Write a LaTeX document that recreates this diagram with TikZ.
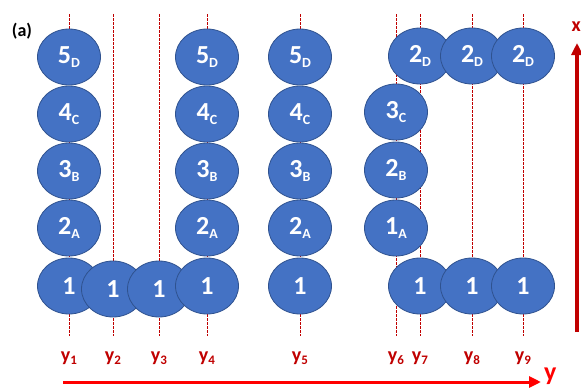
\documentclass[tikz,border=0pt]{standalone}
\usepackage{fontspec}
\setmainfont{Carlito}
\usepackage{xcolor}
\definecolor{ballblue}{RGB}{68,114,196}
\definecolor{balledge}{RGB}{47,82,143}
\definecolor{guidered}{RGB}{192,0,0}
\definecolor{axisred}{RGB}{255,0,0}
\usetikzlibrary{arrows.meta, positioning, shapes.geometric}
\newcommand{\lowsub}[2][14]{\raisebox{-0.35ex}{\fontsize{#1}{#1}\selectfont #2}}

\begin{document}
\begin{tikzpicture}[
  x=1pt, y=-1pt,
  ball/.style={ellipse, draw=balledge, fill=ballblue, line width=0.8pt,
               minimum width=63pt, minimum height=56pt, inner sep=0pt,
               text=white, font=\fontsize{26}{26}\selectfont\bfseries},
  guide/.style={draw=guidered, line width=0.6pt, dash pattern=on 2.5pt off 1.5pt},
  ylab/.style={text=guidered, font=\fontsize{20}{20}\selectfont\bfseries, anchor=base},
  arr/.style={-{Triangle[length=12pt, width=11pt]}}
]
\useasboundingbox (0,0) rectangle (581,391);

% Guide lines and their labels
\foreach \i/\xx in {1/69, 2/113, 3/159, 4/207, 5/300, 6/396, 7/420, 8/472, 9/523} {
  \coordinate (t\i) at (\xx,14);
  \coordinate (b\i) at (\xx,336);
  \draw[guide] (t\i) -- (b\i);
  \node[ylab] (l\i) at (\xx,361) {y\lowsub[13]{\i}};
}

% Column y1
\node[ball] (c1-5) at (69,57)  {5\lowsub{D}};
\node[ball] (c1-4) at (69,114) {4\lowsub{C}};
\node[ball] (c1-3) at (69,171) {3\lowsub{B}};
\node[ball] (c1-2) at (69,228) {2\lowsub{A}};
\node[ball] (c1-1) at (69,286) {1};

% Columns y2, y3
\node[ball] (c2-1) at (113,289) {1};
\node[ball] (c3-1) at (159,289) {1};

% Column y4
\node[ball] (c4-5) at (207,57)  {5\lowsub{D}};
\node[ball] (c4-4) at (207,114) {4\lowsub{C}};
\node[ball] (c4-3) at (207,171) {3\lowsub{B}};
\node[ball] (c4-2) at (207,228) {2\lowsub{A}};
\node[ball] (c4-1) at (207,286) {1};

% Column y5
\node[ball] (c5-5) at (300,57)  {5\lowsub{D}};
\node[ball] (c5-4) at (300,114) {4\lowsub{C}};
\node[ball] (c5-3) at (300,171) {3\lowsub{B}};
\node[ball] (c5-2) at (300,228) {2\lowsub{A}};
\node[ball] (c5-1) at (300,286) {1};

% Column y6
\node[ball] (c6-3) at (396,112) {3\lowsub{C}};
\node[ball] (c6-2) at (396,170) {2\lowsub{B}};
\node[ball] (c6-1) at (396,228) {1\lowsub{A}};

% Columns y7 to y9
\node[ball] (c7-2) at (420,56)  {2\lowsub{D}};
\node[ball] (c8-2) at (472,56)  {2\lowsub{D}};
\node[ball] (c9-2) at (523,56)  {2\lowsub{D}};
\node[ball] (c7-1) at (420,286) {1};
\node[ball] (c8-1) at (472,286) {1};
\node[ball] (c9-1) at (523,286) {1};

% Axes
\coordinate (yo) at (63,382);
\coordinate (ye) at (541,382);
\draw[arr, draw=axisred, fill=axisred, line width=3pt] (yo) -- (ye);
\node[text=axisred, font=\fontsize{26}{26}\selectfont\bfseries, anchor=base west, inner sep=0pt]
  (yname) at (544,380) {y};

\coordinate (xo) at (577,332);
\coordinate (xe) at (577,43);
\draw[arr, draw=guidered, fill=guidered, line width=4pt] (xo) -- (xe);
\node[text=guidered, font=\fontsize{20}{20}\selectfont\bfseries, anchor=east, inner sep=0pt]
  (xname) at (581,27) {x};

% Panel tag
\node[font=\fontsize{18}{18}\selectfont\bfseries] (tag) at (22,31) {(a)};
\end{tikzpicture}
\end{document}
